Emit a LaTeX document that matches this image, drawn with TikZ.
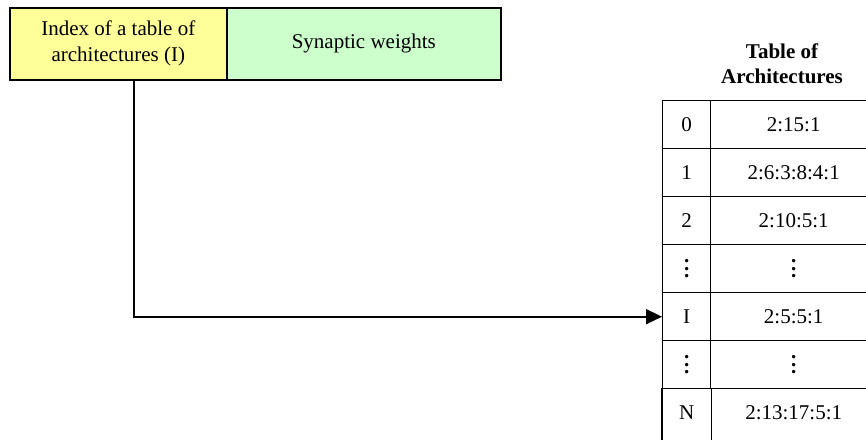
\documentclass[tikz,border=0pt]{standalone}
\usepackage{fontspec}
\setmainfont{Liberation Serif}
\usetikzlibrary{arrows.meta}
\definecolor{idxyellow}{HTML}{FFFF99}
\definecolor{wtgreen}{HTML}{CCFFCC}
% three stacked bold dots marking skipped table rows
\newcommand{\skipdots}{\vbox{\baselineskip=7.5pt\lineskiplimit=-10pt
  \hbox{\textbf{.}}\hbox{\textbf{.}}\hbox{\textbf{.}}}}
\begin{document}
\begin{tikzpicture}[x=1pt,y=-1pt,
  field/.style={draw, line width=1.6pt, inner sep=0pt, anchor=north west,
    align=center, minimum height=72pt, font=\fontsize{21}{26}\selectfont},
  cell/.style={draw, line width=1.4pt, inner sep=0pt, anchor=north west,
    minimum height=48pt, font=\fontsize{21}{25}\selectfont},
  opencell/.style={cell, draw=none},
  idxcol/.style={minimum width=48pt},
  archcol/.style={minimum width=166pt},
  rule/.style={line width=1.4pt},
  link/.style={line width=1.6pt, -{Triangle[length=16pt,width=15pt]}}]
\useasboundingbox (0,0) rectangle (866,439);
\clip (0,0) rectangle (866,439);

% record layout: index field and weight field
\node[field, fill=idxyellow, minimum width=217pt] (index) at (9,7)
  {Index of a table of\\architectures (I)};
\node[field, fill=wtgreen, minimum width=274pt] (weights) at (226,7)
  {Synaptic weights};

% table heading
\node[font=\bfseries\fontsize{21}{25}\selectfont, align=center] (title)
  at (782,64) {Table of\\Architectures};

% table rows
\foreach \k/\a/\b in {0/0/2:15:1, 1/1/2:6:3:8:4:1, 2/2/2:10:5:1,
    3/\skipdots/\skipdots, 4/I/2:5:5:1, 5/\skipdots/\skipdots} {
  \node[cell, idxcol] (idx\k) at (662,{100+48*\k}) {\a};
  \node[cell, archcol] (arch\k) at (710,{100+48*\k}) {\b};
}
% last row, open at the bottom
\node[opencell, idxcol] (idx6) at (662,388) {N};
\node[opencell, archcol] (arch6) at (710,388) {2:13:17:5:1};
\draw[rule] (idx6.north west) -- ++(0,60);
\draw[rule] (idx6.north east) -- ++(0,60);

% pointer from the index field to the selected architecture
\coordinate (tap) at (134,0);
\draw[link] (index.south -| tap) |- (idx4.west);
\end{tikzpicture}
\end{document}
